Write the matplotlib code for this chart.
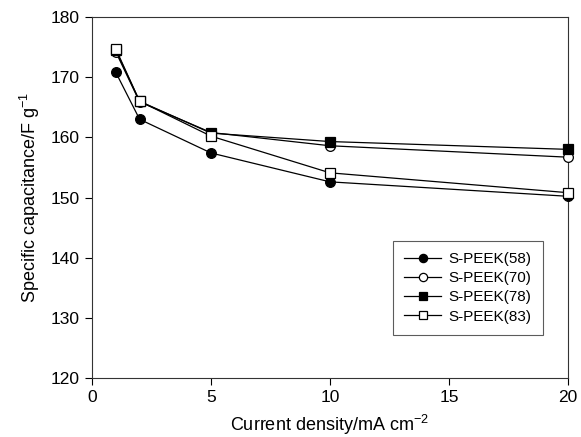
import matplotlib
matplotlib.use("Agg")
import matplotlib.pyplot as plt

plt.rcParams["font.family"] = ["Liberation Sans", "DejaVu Sans"]
plt.rcParams["mathtext.default"] = "regular"

current_density = [1, 2, 5, 10, 20]
speek_58 = [170.8, 163.0, 157.4, 152.6, 150.2]
speek_70 = [174.2, 165.9, 160.8, 158.6, 156.7]
speek_78 = [174.5, 166.0, 160.7, 159.3, 158.0]
speek_83 = [174.7, 166.0, 160.2, 154.1, 150.8]

series = [
    ("S-PEEK(58)", speek_58, "o", "black"),
    ("S-PEEK(70)", speek_70, "o", "white"),
    ("S-PEEK(78)", speek_78, "s", "black"),
    ("S-PEEK(83)", speek_83, "s", "white"),
]

fig = plt.figure(figsize=(5.81, 4.37), dpi=100)
ax = fig.add_axes([92 / 581, 1 - 378 / 437, (568 - 92) / 581, (378 - 17) / 437])

for label, vals, marker, face in series:
    ax.plot(current_density, vals, color="black", lw=0.9, marker=marker,
            markersize=7 if marker == "o" else 6.5, markerfacecolor=face,
            markeredgecolor="black", markeredgewidth=0.9, label=label,
            clip_on=False, zorder=3)

ax.set_xlim(0, 20)
ax.set_ylim(120, 180)
ax.set_xticks([0, 5, 10, 15, 20])
ax.set_yticks(range(120, 181, 10))
ax.tick_params(direction="out", length=5, width=0.8, labelsize=12.5, pad=4,
               top=False, right=False)
for s in ax.spines.values():
    s.set_linewidth(0.8)
    s.set_color("#333333")

ax.set_xlabel("Current density/mA cm$^{-2}$", fontsize=13, labelpad=5)
ax.set_ylabel("Specific capacitance/F g$^{-1}$", fontsize=13, labelpad=6)

leg = ax.legend(loc="lower right", bbox_to_anchor=(1 - 25 / 476, 43 / 361),
                borderaxespad=0, fontsize=11, markerscale=0.85,
                frameon=True, fancybox=False, edgecolor="#333333",
                handlelength=2.4, handletextpad=0.5, borderpad=0.75,
                labelspacing=0.33)
leg.get_frame().set_linewidth(0.8)

fig.savefig("out.png", dpi=100)
plt.close(fig)
